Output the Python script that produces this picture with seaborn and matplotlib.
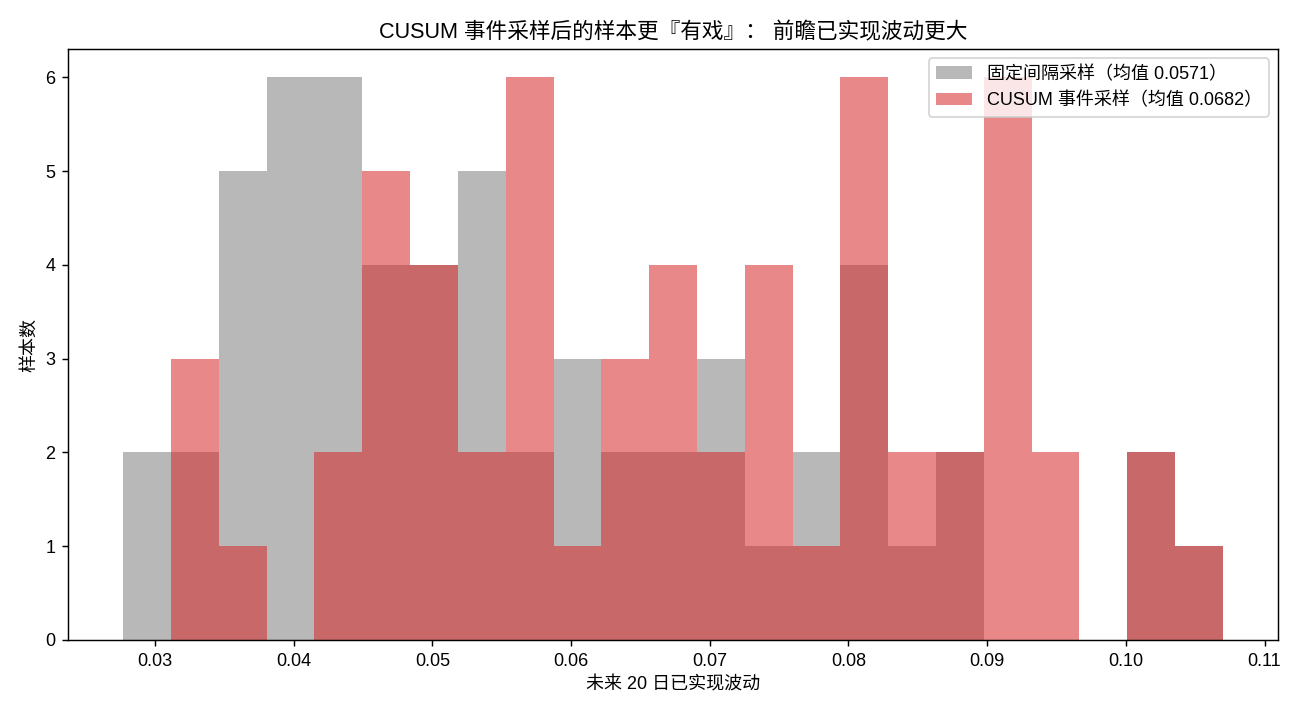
import numpy as np
import pandas as pd
import matplotlib
matplotlib.use("Agg")
import matplotlib.pyplot as plt
import seaborn as sns

# bin range (23 shared bins)
bin_lo = 0.0277
bin_hi = 0.1070
n_bins = 23

# counts per bin, left to right
fixed_counts = [2, 2, 5, 6, 6, 4, 4, 5, 2, 3, 2, 2, 3, 1, 2, 4, 1, 2, 0, 0, 0, 2, 1]
cusum_counts = [0, 3, 1, 0, 2, 5, 4, 2, 6, 1, 3, 4, 2, 4, 1, 6, 2, 2, 6, 2, 0, 2, 1]

fixed_mean = 0.0571
cusum_mean = 0.0682

edges = list(np.linspace(bin_lo, bin_hi, n_bins + 1))
centers = [(a + b) / 2 for a, b in zip(edges[:-1], edges[1:])]

df_fixed = pd.DataFrame({'vol': centers, 'n': fixed_counts})
df_cusum = pd.DataFrame({'vol': centers, 'n': cusum_counts})

# latin glyphs from an Arial-like face, CJK falls through to Noto
plt.rcParams['font.family'] = ['Liberation Sans', 'Noto Sans CJK SC', 'DejaVu Sans']
plt.rcParams['axes.unicode_minus'] = False

fig, ax = plt.subplots(figsize=(10, 5.5), dpi=130)

sns.histplot(data=df_fixed, x='vol', weights='n', bins=edges, color='tab:gray',
             alpha=0.55, linewidth=0, ax=ax,
             label=f"固定间隔采样（均值 {fixed_mean:.4f}）")
sns.histplot(data=df_cusum, x='vol', weights='n', bins=edges, color='tab:red',
             alpha=0.55, linewidth=0, ax=ax,
             label=f"CUSUM 事件采样（均值 {cusum_mean:.4f}）")

ax.set_title("CUSUM 事件采样后的样本更『有戏』： 前瞻已实现波动更大")
ax.set_xlabel("未来 20 日已实现波动")
ax.set_ylabel("样本数")
ax.legend(loc='upper right')

fig.subplots_adjust(left=0.0525, right=0.983, top=0.931, bottom=0.105)
plt.savefig("out.png", dpi=130)
